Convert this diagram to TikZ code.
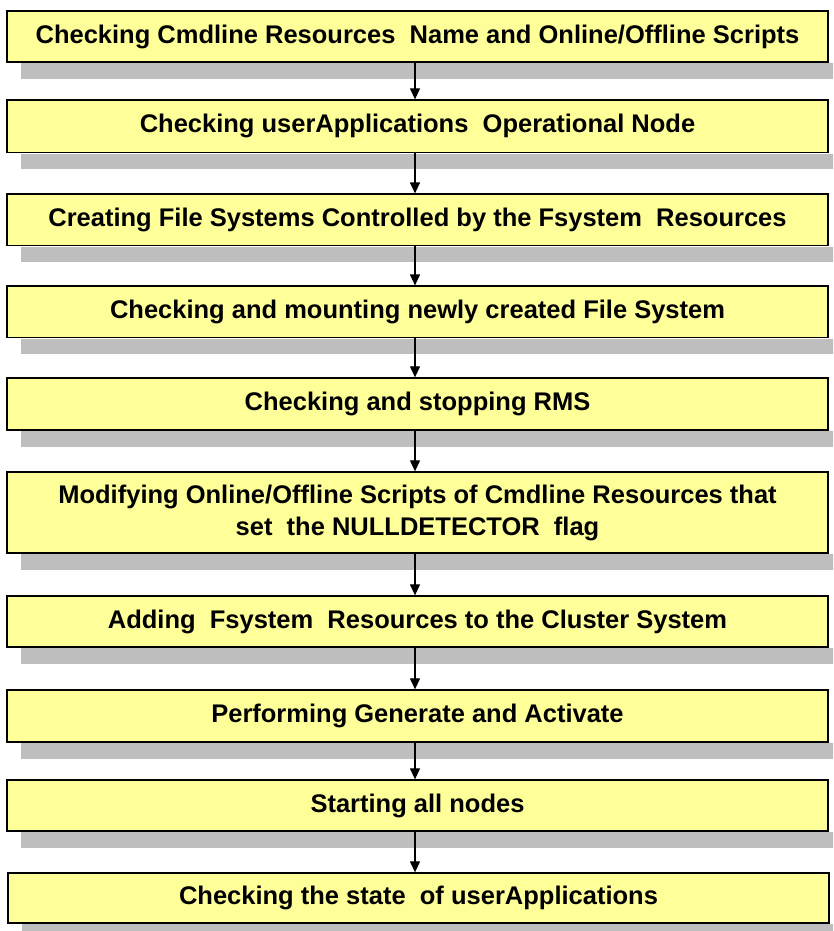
\documentclass[tikz,border=0pt]{standalone}
\usepackage{fontspec}
\setmainfont{Liberation Sans}
\usetikzlibrary{arrows.meta,calc}
\definecolor{boxfill}{RGB}{255,255,153}
\definecolor{shadowgray}{RGB}{190,190,190}
\tikzset{
  stepbox/.style={draw=black, line width=1.3pt, fill=boxfill, minimum width=821pt,
    align=center, font=\bfseries\fontsize{25.5}{32}\selectfont, inner sep=2pt, anchor=center},
  flowarrow/.style={line width=1.2pt, -{Triangle[width=10pt,length=11pt]}},
  boxshadow/.style={fill=shadowgray, draw=none}
}
\begin{document}
\begin{tikzpicture}[x=1pt,y=-1pt]
\useasboundingbox (0,0) rectangle (833,931);
\clip (0,0) rectangle (833,931);
\node[stepbox, minimum height=51pt] (n1) at (417.5,36.5) {Checking Cmdline Resources\ \ Name and Online/Offline Scripts};
\node[stepbox, minimum height=52.5pt] (n2) at (417.5,126.25) {Checking userApplications\ \ Operational Node};
\node[stepbox, minimum height=51.7pt] (n3) at (417.5,219.9) {Creating File Systems Controlled by the Fsystem\ \ Resources};
\node[stepbox, minimum height=51.7pt] (n4) at (417.5,311.9) {Checking and mounting newly created File System};
\node[stepbox, minimum height=52pt] (n5) at (417.5,404) {Checking and stopping RMS};
\node[stepbox, minimum height=81pt] (n6) at (417.5,512.5) {Modifying Online/Offline Scripts of Cmdline Resources that\\set\ \ the NULLDETECTOR\ \ flag};
\node[stepbox, minimum height=51pt] (n7) at (417.5,621.5) {Adding\ \ Fsystem\ \ Resources to the Cluster System};
\node[stepbox, minimum height=52pt] (n8) at (417.5,716) {Performing Generate and Activate};
\node[stepbox, minimum height=51pt] (n9) at (417.5,805.5) {Starting all nodes};
\node[stepbox, minimum height=50pt] (n10) at (418.5,898) {Checking the state\ \ of userApplications};
% shadows
\foreach \n in {n1,n2,n3,n4,n5,n6,n7,n8,n9,n10}{
  \fill[boxshadow] ($(\n.south west)+(15,0.7)$) rectangle ($(\n.south east)+(15,16)$);
}
% arrows
\foreach \a/\b in {n1/n2,n2/n3,n3/n4,n4/n5,n5/n6,n6/n7,n7/n8,n8/n9,n9/n10}{
  \coordinate (s\a) at ($(\a.south)+(-2.5,0)$);
  \draw[flowarrow] (s\a) -- (s\a |- \b.north);
}
\end{tikzpicture}
\end{document}
